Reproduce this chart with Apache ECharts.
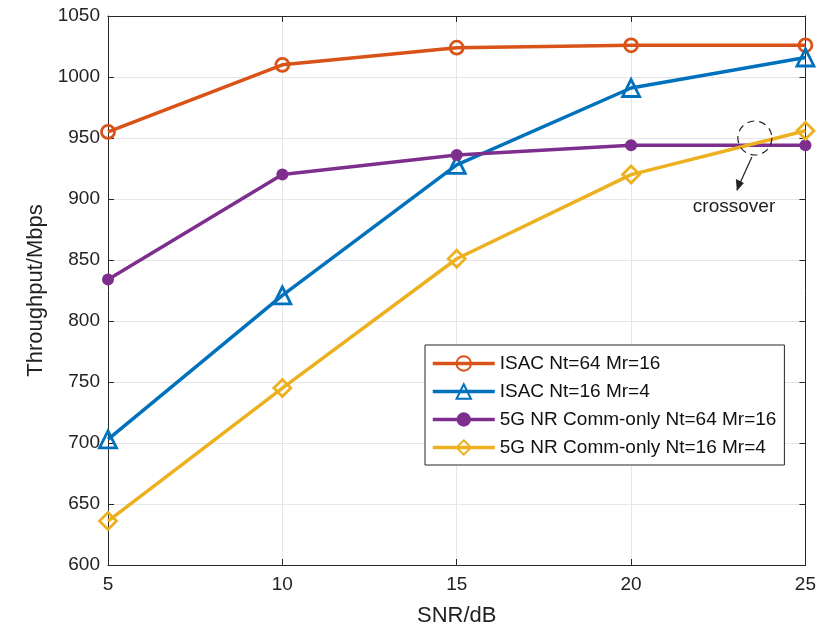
<!DOCTYPE html>
<html>
<head>
<meta charset="utf-8">
<script src="https://cdn.jsdelivr.net/npm/echarts@6/dist/echarts.min.js"></script>
<style>
  html, body { margin: 0; padding: 0; background: #fff; }
  #chart { width: 819px; height: 634px; }
</style>
</head>
<body>
<div id="chart"></div>
<script>
// SNR values (dB)
const snr = [5, 10, 15, 20, 25]

// throughput, Mbps
const isac64 = [955, 1010, 1024, 1026, 1026]
const isac16 = [703, 821, 928, 991, 1016]
const nr64 = [834, 920, 936, 944, 944]
const nr16 = [636, 745, 851, 920, 956]

const names = [
  'ISAC Nt=64 Mr=16',
  'ISAC Nt=16 Mr=4',
  '5G NR Comm-only Nt=64 Mr=16',
  '5G NR Comm-only Nt=16 Mr=4'
]

// where the annotation circle sits
const crossAt = [23.55, 950]

const FONT = '"Liberation Sans", Arial, sans-serif'
const AXIS = '#262626'

const chart = echarts.init(document.getElementById('chart'))

function pts(vals) {
  return snr.map((x, i) => [x, vals[i]])
}

function lineSeries(name, vals, color, symbol, size, filled) {
  return {
    name,
    type: 'line',
    data: pts(vals),
    symbol,
    symbolSize: size,
    showAllSymbol: true,
    lineStyle: { color, width: 3.5 },
    itemStyle: {
      color: filled ? color : 'rgba(255,255,255,0)',
      borderColor: color,
      borderWidth: filled ? 0 : 2.8
    },
    emphasis: { disabled: true },
    z: 3
  }
}

const axisCommon = {
  axisLine: { show: true, lineStyle: { color: AXIS, width: 1 } },
  axisTick: { show: true, inside: true, length: 6, lineStyle: { color: AXIS } },
  splitLine: { show: false },
  axisLabel: { show: false }
}

chart.setOption({
  animation: false,
  backgroundColor: '#fff',
  textStyle: { fontFamily: FONT },
  grid: { left: 108, right: 11, top: 16, bottom: 69, containLabel: false },
  legend: {
    orient: 'vertical',
    left: 425,
    top: 345,
    padding: [9, 8, 8, 6],
    itemGap: 9,
    itemWidth: 62,
    itemHeight: 18,
    backgroundColor: '#fff',
    borderColor: AXIS,
    borderWidth: 1,
    lineStyle: { width: 3.5 },
    textStyle: { fontSize: 19, color: '#111', fontFamily: FONT },
    data: names
  },
  xAxis: [
    {
      type: 'value',
      min: 5,
      max: 25,
      interval: 5,
      name: 'SNR/dB',
      nameLocation: 'middle',
      nameGap: 40,
      nameTextStyle: { fontSize: 22, color: '#222', fontFamily: FONT },
      axisLine: { show: true, onZero: false, lineStyle: { color: AXIS, width: 1 } },
      axisTick: { show: true, inside: true, length: 6, lineStyle: { color: AXIS } },
      axisLabel: { fontSize: 19, color: '#222', margin: 10, fontFamily: FONT },
      splitLine: { show: true, lineStyle: { color: '#e6e6e6', width: 1 } }
    },
    Object.assign({ type: 'value', min: 5, max: 25, interval: 5, position: 'top' }, axisCommon)
  ],
  yAxis: [
    {
      type: 'value',
      min: 600,
      max: 1050,
      interval: 50,
      name: 'Throughput/Mbps',
      nameLocation: 'middle',
      nameGap: 61,
      nameTextStyle: { fontSize: 22, color: '#222', fontFamily: FONT },
      axisLine: { show: true, onZero: false, lineStyle: { color: AXIS, width: 1 } },
      axisTick: { show: true, inside: true, length: 6, lineStyle: { color: AXIS } },
      axisLabel: {
        fontSize: 19,
        color: '#222',
        margin: 8,
        fontFamily: FONT,
        formatter: v => String(v)
      },
      splitLine: { show: true, lineStyle: { color: '#e6e6e6', width: 1 } }
    },
    Object.assign({ type: 'value', min: 600, max: 1050, interval: 50, position: 'right' }, axisCommon)
  ],
  series: [
    lineSeries(names[0], isac64, '#D95319', 'circle', 13, false),
    lineSeries(names[1], isac16, '#0072BD', 'triangle', 17, false),
    lineSeries(names[2], nr64, '#7E2F8E', 'circle', 12, true),
    lineSeries(names[3], nr16, '#EDB120', 'diamond', 17, false)
  ]
})

// crossover annotation placed through the axes
const c = chart.convertToPixel({ gridIndex: 0 }, crossAt)
const r = 17
const tip = [c[0] - 18, c[1] + 52]
chart.setOption({
  graphic: [
    {
      type: 'circle',
      shape: { cx: c[0], cy: c[1], r },
      style: { fill: 'none', stroke: '#222', lineWidth: 1.2, lineDash: [7, 5] },
      z: 10
    },
    {
      type: 'line',
      shape: { x1: c[0] - 3, y1: c[1] + r + 2, x2: tip[0], y2: tip[1] },
      style: { stroke: '#222', lineWidth: 1.2 },
      z: 10
    },
    {
      type: 'polygon',
      shape: {
        points: [
          [tip[0], tip[1] + 1],
          [tip[0] - 1, tip[1] - 11],
          [tip[0] + 7, tip[1] - 7]
        ]
      },
      style: { fill: '#222' },
      z: 10
    },
    {
      type: 'text',
      x: c[0] - 62,
      y: c[1] + 59,
      style: { text: 'crossover', fontSize: 19, fill: '#222', fontFamily: FONT },
      z: 10
    }
  ]
})
</script>
</body>
</html>
